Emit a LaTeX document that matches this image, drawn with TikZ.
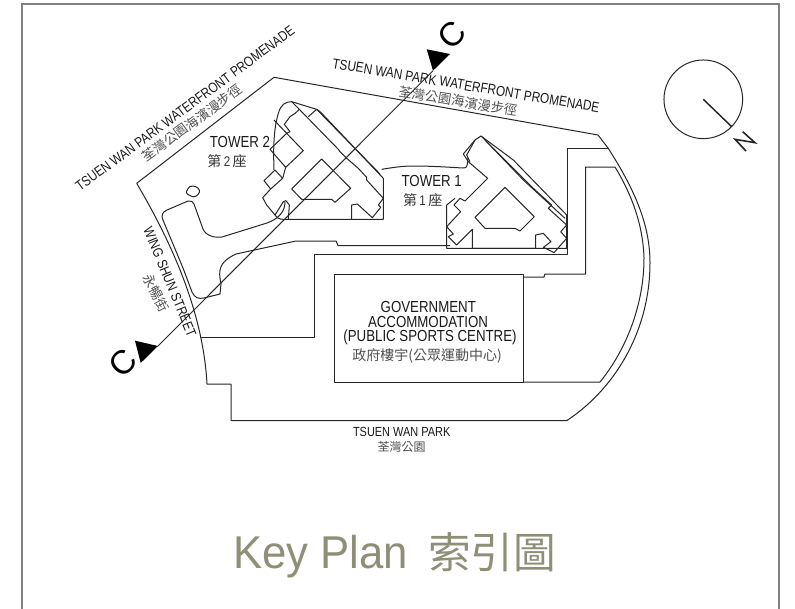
\documentclass[tikz,border=0pt]{standalone}
\usepackage{fontspec}
\setmainfont{Liberation Sans}
\newfontfamily\latn[FakeStretch=0.83]{Liberation Sans}
\newfontfamily\latw[FakeStretch=0.95]{Liberation Sans}
\newfontfamily\cjk{Noto Sans CJK TC}
\definecolor{framegray}{HTML}{808080}
\definecolor{keyolive}{HTML}{8F8F78}
\definecolor{cjkgray}{HTML}{505050}
\tikzset{
  plan/.style={draw=black!85,line width=0.75pt,line join=round},
  enl/.style={inner sep=0pt,text=black!90,font=\latn\fontsize{#1}{#1}\selectfont,align=center},
  zhl/.style={inner sep=0pt,text=cjkgray,font=\cjk\fontsize{#1}{#1}\selectfont},
}
\begin{document}
\begin{tikzpicture}[x=0.75pt,y=-0.75pt]
\useasboundingbox (0,0) rectangle (795,608);
% frame
\draw[framegray,line width=1pt] (22,620) -- (22,4) -- (779,4) -- (779,620);
% site boundary
\draw[plan] (207,384) .. controls (203,310) and (170,240) .. (136.7,183.3) -- (274,77.3) -- (598,135) -- (608,148)
  .. controls (635,190) and (650,225) .. (650,263) .. controls (650,325) and (620,385) .. (567,420.5) -- (231,420.5) -- (231,384) -- cycle;
% inner arc and inner lines
\draw[plan] (200,337) -- (314,337) -- (314,254) -- (567,254) -- (567,148.3) -- (608,148.3);
\draw[plan] (523,277) -- (544,277) -- (545,274) -- (585.7,274) -- (585.7,167) -- (615,167)
  .. controls (632,195) and (643,225) .. (644,258) .. controls (644,305) and (626,350) .. (600,382) -- (523,382);
\draw[plan] (334,274) rectangle (523,382);
% road
\draw[plan] (167,210) -- (188,201) .. controls (191,200) and (193,202) .. (194,204) -- (203,229)
  .. controls (206,236) and (215,238) .. (222,237) -- (267,223) .. controls (278,219) and (285,212) .. (285,202);
\draw[plan] (167,210) .. controls (162,212) and (161,216) .. (163,220) -- (183,268) -- (192,292) .. controls (195,298) and (198,299) .. (204,298)
  -- (220,294) -- (221,284) .. controls (218,270) and (219,262) .. (236,254) -- (296,241) -- (336,241) -- (338,245.5) -- (450,245.7);
% pond
\draw[plan] (186.5,191.5) .. controls (189,186) and (191,185.5) .. (193,186) .. controls (197,186.5) and (200,189) .. (199.5,192) .. controls (198,196) and (194,197.5) .. (192,196.5) .. controls (189,195.5) and (186,194) .. (186.5,191.5) -- cycle;
% section line
\coordinate (secA) at (158,346);
\coordinate (secB) at (433,70.7);
\draw[plan] (secA) -- (secB);
\fill[black] (135,340.7) -- (158,346) -- (140.7,363) -- cycle;
\fill[black] (426.7,49.3) -- (450,54) -- (433,70.7) -- cycle;
\node[inner sep=0pt,font=\fontsize{25}{25}\selectfont,rotate=45] (cLow) at (123,363) {C};
\node[inner sep=0pt,font=\fontsize{25}{25}\selectfont,rotate=45] (cUp) at (452,35) {C};
% Tower 2 (offset 250,90; 3x)
\begin{scope}[shift={(250,90)},x=0.25pt,y=-0.25pt]
\draw[plan] (125,35) -- (148,58) -- (265,178) -- (270,185) -- (290,205) -- (325,235) -- (350,262) -- (350,270) -- (400,325)
  -- (385,345) -- (392,352) -- (367,383) -- (322,342) -- (305,345) -- (305,388) -- (115,388) -- (118,345) -- (108,332) -- (100,335) -- (75,375)
  -- (50,345) -- (38,323) -- (62,297) -- (42,272) -- (75,240) -- (98,265) -- (62,297);
\draw[plan] (98,265) -- (107,232) -- (60,178) -- (110,130) -- (160,182) -- (107,232);
\draw[plan] (110,130) -- (120,125) -- (103,103) -- (120,80) -- (135,70) -- (148,58);
\draw[plan] (72,90) -- (110,130);
\draw[plan] (72,240) .. controls (70,180) and (70,120) .. (85,70) .. controls (92,45) and (105,35) .. (125,35) -- (190,55) .. controls (205,58) and (210,65) .. (220,75) -- (400,265) -- (400,388) -- (305,388);
\draw[plan] (175,80) -- (200,58) -- (390,252);
\draw[plan] (215,207) -- (302,295) -- (255,337) -- (245,328) -- (155,328) -- (125,297) -- cycle;
\draw[plan] (75,375) .. controls (85,390) and (95,388) .. (115,388);
\draw[plan] (395,238) .. controls (430,232) and (460,228) .. (489,228) .. controls (550,228) and (600,232) .. (639,234) .. controls (650,234) and (652,228) .. (652,222) -- (654,204);
\end{scope}
% Tower 1 (offset 440,130; 3x)
\begin{scope}[shift={(440,130)},x=0.25pt,y=-0.25pt]
\draw[plan] (123,18) -- (105,30) -- (70,72) -- (85,95) -- (143,145) -- (75,213) -- (60,205) -- (42,225) -- (62,245) -- (20,290) -- (40,312)
  -- (25,320) -- (50,345) -- (97,298) -- (97,355) -- (287,355) -- (287,315) -- (310,310) -- (333,335) -- (310,352) -- (342,368) -- (380,325)
  -- (362,305) -- (380,285) -- (325,235) -- (335,225) -- (280,175) -- (245,140) -- (123,18);
\draw[plan] (123,18) -- (220,90) -- (380,255) -- (380,355) -- (20,355) -- (20,225) -- (45,205);
\draw[plan] (135,30) -- (250,150) -- (375,265);
\draw[plan] (105,30) -- (80,75) -- (90,95);
\draw[plan] (195,172) -- (283,260) -- (240,303) -- (225,295) -- (135,295) -- (105,262) -- cycle;
\end{scope}
% north symbol
\node[draw=black!85,line width=0.75pt,circle,minimum size=59pt,inner sep=0pt] (nc) at (703.3,99.3) {};
\draw[black!85,line width=1.1pt] (nc.center) -- (731.7,126.7);
\draw[black!85,line width=1.2pt] (742.7,131.7) -- (755,142.7) -- (735,139.3) -- (746,151);
% labels
\node[enl=10.6,rotate=36.4] (l1) at (185,108.5) {TSUEN WAN PARK WATERFRONT PROMENADE};
\node[zhl=10,rotate=36.4] (z1) at (192,123) {荃灣公園海濱漫步徑};
\node[enl=10.7,rotate=-9.5] (l2) at (466,85.5) {TSUEN WAN PARK WATERFRONT PROMENADE};
\node[zhl=10,rotate=-9.5] (z2) at (458,101) {荃灣公園海濱漫步徑};
\node[enl=12] (t2) at (240,142) {TOWER 2};
\node[zhl=10.5,text=black!80] (z3) at (227,160.7) {第\,{\latn 2}\,座};
\node[enl=12] (t1) at (431.7,180.7) {TOWER 1};
\node[zhl=10.5,text=black!80] (z4) at (422.7,200) {第\,{\latn 1}\,座};
\node[enl=10.5,rotate=-67.5] (w) at (170,282) {WING SHUN STREET};
\node[zhl=10,rotate=-62] (z5) at (156,293) {永暢街};
\node[enl=12] (g1) at (428.3,307.3) {GOVERNMENT};
\node[enl=12] (g2) at (428,322) {ACCOMMODATION};
\node[enl=12] (g3) at (430,337.7) {(PUBLIC SPORTS CENTRE)};
\node[zhl=10.5] (g4) at (427,355.7) {政府樓宇(公眾運動中心)};
\node[enl=9.9] (p1) at (401.7,431.7) {TSUEN WAN PARK};
\node[zhl=9] (p2) at (401.7,447) {荃灣公園};
\node[inner sep=0pt,anchor=base west,text=keyolive,font=\latw\fontsize{34.5}{34.5}\selectfont] (k1) at (233,568) {Key Plan};
\node[inner sep=0pt,anchor=base west,text=keyolive,font=\cjk\fontsize{32}{32}\selectfont] (k2) at (428,568) {索引圖};
\end{tikzpicture}
\end{document}
